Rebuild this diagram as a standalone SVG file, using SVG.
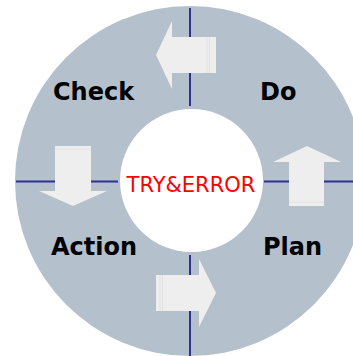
<svg xmlns="http://www.w3.org/2000/svg" width="353" height="356" viewBox="0 0 353 356">
  <style>
    .ring { fill: #B5C0CD; }
    .hub { fill: #FFFFFF; }
    .axis { stroke: #2E3192; stroke-width: 2; fill: none; }
    .arrow { fill: #EEEEEE; }
    .seam { stroke: #DDDDDD; stroke-width: 0.7; }
    .phase { font-family: "DejaVu Sans", Verdana, sans-serif; font-weight: bold; font-size: 24px; fill: #000000; }
    .center { font-family: "DejaVu Sans", Verdana, sans-serif; font-size: 21px; fill: #FF0000; }
  </style>

  <!-- outer ring -->
  <circle class="ring" cx="190" cy="181" r="175"/>

  <!-- quadrant divider lines -->
  <g id="connectors">
    <line class="axis" x1="190" y1="8" x2="190" y2="106"/>
    <line class="axis" x1="190" y1="255" x2="190" y2="356"/>
    <line class="axis" x1="16" y1="181.5" x2="118" y2="181.5"/>
    <line class="axis" x1="264" y1="181.5" x2="353" y2="181.5"/>
  </g>

  <!-- cycle arrows -->
  <g id="arrow-do-check">
    <polygon class="arrow" points="216,37 172,37 172,21 156,55 172,89 172,73 216,73"/>
    <line class="seam" x1="207" y1="37" x2="207" y2="73"/>
    <line class="seam" x1="209.5" y1="37" x2="209.5" y2="73"/>
  </g>
  <g id="arrow-check-action">
    <polygon class="arrow" points="55,146 55,191 39,191 73,206 107,191 91,191 91,146"/>
    <line class="seam" x1="55" y1="149" x2="91" y2="149"/>
  </g>
  <g id="arrow-action-plan">
    <polygon class="arrow" points="156,275 199,275 199,259 216,293 199,327 199,311 156,311"/>
    <line class="seam" x1="160" y1="275" x2="160" y2="311"/>
    <line class="seam" x1="162.5" y1="275" x2="162.5" y2="311"/>
  </g>
  <g id="arrow-plan-do">
    <polygon class="arrow" points="289,206 289,162 273,162 307,146 341,162 324,162 324,206"/>
    <line class="seam" x1="289" y1="202" x2="324" y2="202"/>
  </g>

  <!-- center hub -->
  <g id="hub">
    <circle class="hub" cx="191.5" cy="180.5" r="71.5"/>
    <text class="center" x="191" y="192" text-anchor="middle">TRY&amp;ERROR</text>
  </g>

  <!-- phase labels -->
  <g id="check"><text class="phase" x="53" y="100">Check</text></g>
  <g id="do"><text class="phase" x="260" y="100">Do</text></g>
  <g id="action"><text class="phase" x="51" y="255">Action</text></g>
  <g id="plan"><text class="phase" x="263" y="255">Plan</text></g>
</svg>
